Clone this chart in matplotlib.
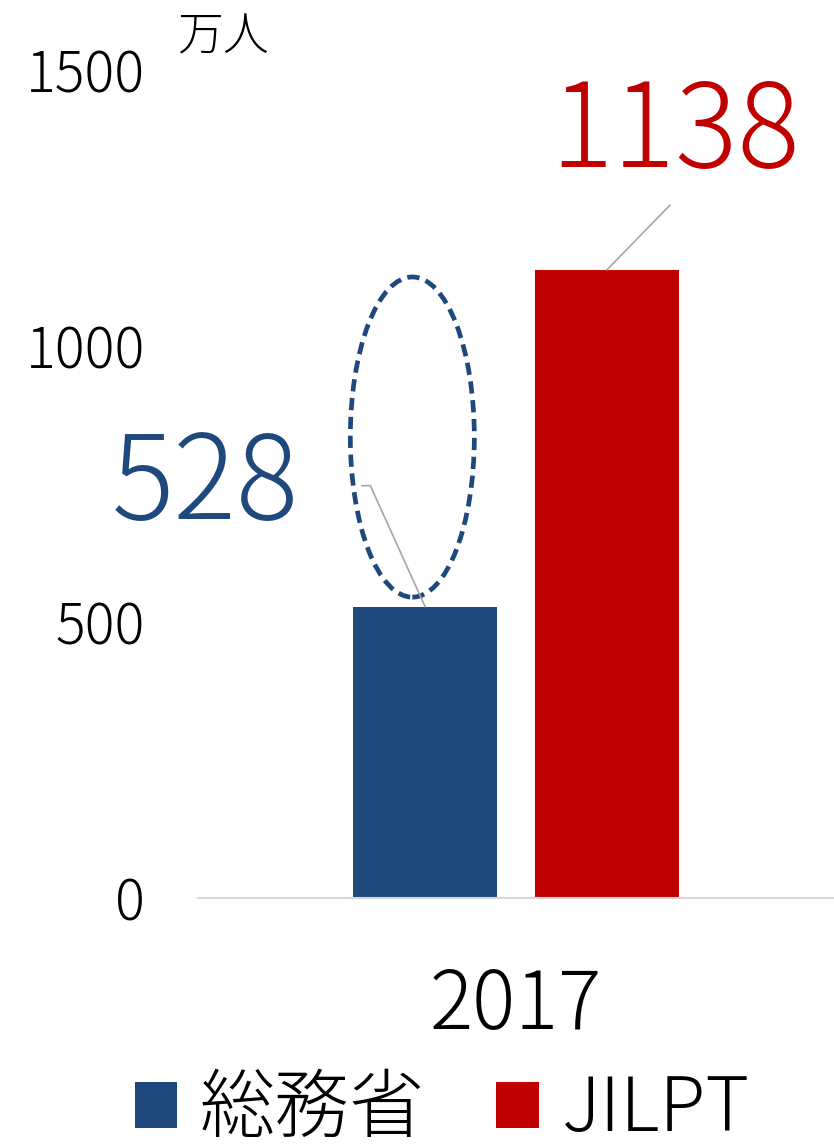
import matplotlib
matplotlib.use("Agg")
import matplotlib.pyplot as plt
from matplotlib.patches import Ellipse, Patch

plt.rcParams['font.family'] = ['Noto Sans CJK JP', 'DejaVu Sans']
plt.rcParams['font.weight'] = 'light'

# データ
years = ['2017']
series = ['総務省', 'JILPT']
values = [528, 1138]
colors = ['#1F497D', '#C00000']
yticks = [0, 500, 1000, 1500]
unit = '万人'

fig = plt.figure(figsize=(8.34, 11.45), dpi=100)
ax = fig.add_axes([0.2374, 0.2157, 0.7626, 0.7232])

offsets = [-0.143, 0.143]
width = 0.226
for v, c, off in zip(values, colors, offsets):
    ax.bar(0 + off, v, width=width, color=c, zorder=2)

ax.set_xlim(-0.5, 0.5)
ax.set_ylim(0, 1500)
ax.set_xticks([0])
ax.set_xticklabels(years, fontsize=58)
ax.set_yticks(yticks)
ax.set_yticklabels([str(t) for t in yticks], fontsize=40)
ax.tick_params(axis='y', length=0, pad=38)
ax.tick_params(axis='x', length=0, pad=48)
for s in ['top', 'right', 'left']:
    ax.spines[s].set_visible(False)
ax.spines['bottom'].set_color('#D9D9D9')
ax.spines['bottom'].set_linewidth(1.5)

# 単位
fig.text(0.267, 0.967, unit, fontsize=33, ha='center', va='center')

# 破線の楕円
ell = Ellipse((offsets[0] - 0.02, values[0] + 307), 0.195, 580,
              fill=False, edgecolor='#1F497D', lw=3.4,
              linestyle=(0, (2.6, 1.4)), zorder=3)
ax.add_patch(ell)

# ラベルと引き出し線
ax.text(-0.489, 745, str(values[0]), fontsize=84, color=colors[0],
        ha='center', va='center')
ax.plot([-0.242, -0.229, offsets[0]], [747, 747, values[0]],
        color='#A6A6A6', lw=1.2, zorder=4)
ax.text(0.25, 1382, str(values[1]), fontsize=84, color=colors[1],
        ha='center', va='center')
ax.plot([0.242, offsets[1]], [1255, values[1]],
        color='#A6A6A6', lw=1.2, zorder=4)

handles = [Patch(facecolor=c, edgecolor='none') for c in colors]
fig.legend(handles, series, loc='center', bbox_to_anchor=(0.53, 0.03),
           ncol=2, frameon=False, fontsize=54, handlelength=0.57,
           handleheight=0.57, handletextpad=0.3, columnspacing=0.95)

fig.savefig('out.png', dpi=100)
